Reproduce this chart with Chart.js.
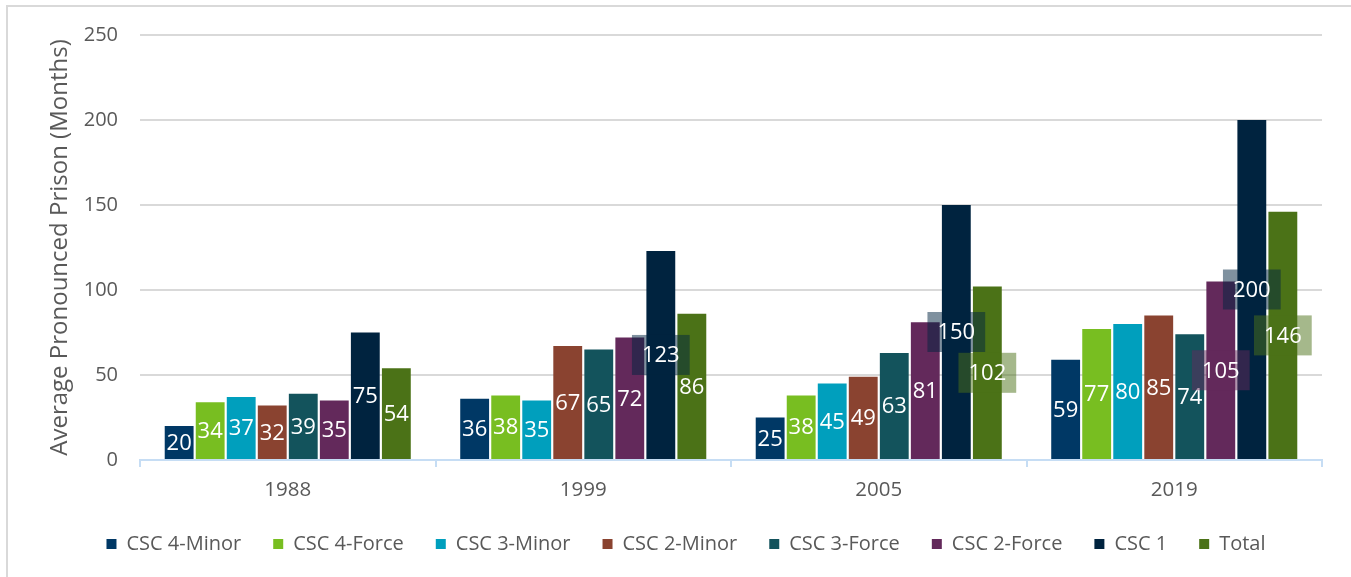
<!DOCTYPE html>
<html>
<head>
<meta charset="utf-8">
<script src="https://cdn.jsdelivr.net/npm/chart.js@4.4.1/dist/chart.umd.min.js"></script>
<style>
    html, body { margin: 0; padding: 0; background: #ffffff; }
    #wrap { position: relative; width: 1351px; height: 577px; }
</style>
</head>
<body>
<div id="wrap"><canvas id="prison_chart"></canvas></div>
<script>
var arrYears = ['1988', '1999', '2005', '2019'];
var arrSeries = ['CSC 4-Minor', 'CSC 4-Force', 'CSC 3-Minor', 'CSC 2-Minor', 'CSC 3-Force', 'CSC 2-Force', 'CSC 1', 'Total'];
var arrColors = ['#003865', '#78be21', '#009fbd', '#8a4330', '#13535c', '#63295b', '#00233f', '#4b7217'];

var arrCsc4Minor = [20, 36, 25, 59];
var arrCsc4Force = [34, 38, 38, 77];
var arrCsc3Minor = [37, 35, 45, 80];
var arrCsc2Minor = [32, 67, 49, 85];
var arrCsc3Force = [39, 65, 63, 74];
var arrCsc2Force = [35, 72, 81, 105];
var arrCsc1 = [75, 123, 150, 200];
var arrTotal = [54, 86, 102, 146];

var arrValues = [arrCsc4Minor, arrCsc4Force, arrCsc3Minor, arrCsc2Minor, arrCsc3Force, arrCsc2Force, arrCsc1, arrTotal];
var arrYTicks = [0, 50, 100, 150, 200, 250];

var strFont = '"Open Sans", "Noto Sans", sans-serif';
var strText = '#595959';

function hexToRgba(strHex, fltAlpha) {
    var r = parseInt(strHex.slice(1, 3), 16);
    var g = parseInt(strHex.slice(3, 5), 16);
    var b = parseInt(strHex.slice(5, 7), 16);
    return 'rgba(' + r + ',' + g + ',' + b + ',' + fltAlpha + ')';
}

// white labels centred in each bar, wide ones get a see-through box
var objBarLabels = {
    id: 'barLabels',
    afterDatasetsDraw: function (chart) {
        var ctx = chart.ctx;
        ctx.save();
        ctx.font = '22px ' + strFont;
        ctx.textAlign = 'center';
        ctx.textBaseline = 'middle';
        chart.data.datasets.forEach(function (objSet, i) {
            var meta = chart.getDatasetMeta(i);
            meta.data.forEach(function (bar, j) {
                var value = objSet.data[j];
                var strLabel = String(value);
                var x = bar.x;
                var y = (bar.y + bar.base) / 2;
                if (value >= 100) {
                    var w = ctx.measureText(strLabel).width + 20;
                    ctx.fillStyle = hexToRgba(arrColors[i], 0.5);
                    ctx.fillRect(x - w / 2, y - 20, w, 40);
                }
                ctx.fillStyle = '#ffffff';
                ctx.fillText(strLabel, x, y + 1);
            });
        });
        ctx.restore();
    }
};

// outer frame of the picture (only top and left edges are in view)
var objFrame = {
    id: 'frame',
    beforeDraw: function (chart) {
        var ctx = chart.ctx;
        ctx.save();
        ctx.strokeStyle = '#d9d9d9';
        ctx.lineWidth = 2;
        ctx.beginPath();
        ctx.moveTo(7, chart.height + 2);
        ctx.lineTo(7, 6);
        ctx.lineTo(chart.width + 2, 6);
        ctx.stroke();
        ctx.restore();
    }
};

var arrDatasets = arrSeries.map(function (strName, i) {
    return {
        label: strName,
        data: arrValues[i],
        backgroundColor: arrColors[i],
        borderWidth: 0,
        categoryPercentage: 0.84,
        barPercentage: 0.93
    };
});

var ctx = document.getElementById('prison_chart').getContext('2d');
var objChart = new Chart(ctx, {
    type: 'bar',
    data: {
        labels: arrYears,
        datasets: arrDatasets
    },
    plugins: [objFrame, objBarLabels],
    options: {
        responsive: true,
        maintainAspectRatio: false,
        animation: false,
        devicePixelRatio: 1,
        layout: {
            padding: { left: 50, right: 29, top: 35, bottom: 13 }
        },
        plugins: {
            tooltip: { enabled: false },
            legend: {
                position: 'bottom',
                labels: {
                    color: strText,
                    font: { family: strFont, size: 20 },
                    boxWidth: 10,
                    boxHeight: 10,
                    padding: 32
                }
            }
        },
        scales: {
            x: {
                grid: {
                    drawOnChartArea: false,
                    drawTicks: true,
                    tickLength: 7,
                    color: '#c6ddf4',
                    lineWidth: 2
                },
                border: { color: '#c6ddf4', width: 2 },
                ticks: {
                    color: strText,
                    font: { family: strFont, size: 20.5 },
                    padding: 11
                },
                afterFit: function (scale) {
                    scale.height = 42;
                }
            },
            y: {
                min: 0,
                max: 250,
                afterBuildTicks: function (scale) {
                    scale.ticks = arrYTicks.map(function (v) { return { value: v }; });
                },
                grid: {
                    color: '#d9d9d9',
                    lineWidth: 2,
                    drawTicks: false
                },
                border: { display: false },
                ticks: {
                    color: strText,
                    font: { family: strFont, size: 20 },
                    padding: 22
                },
                title: {
                    display: true,
                    text: 'Average Pronounced Prison (Months)',
                    color: strText,
                    font: { family: strFont, size: 24 },
                    padding: { top: -4, bottom: 0 }
                },
                afterFit: function (scale) {
                    scale.width = 90;
                }
            }
        }
    }
});
</script>
</body>
</html>
